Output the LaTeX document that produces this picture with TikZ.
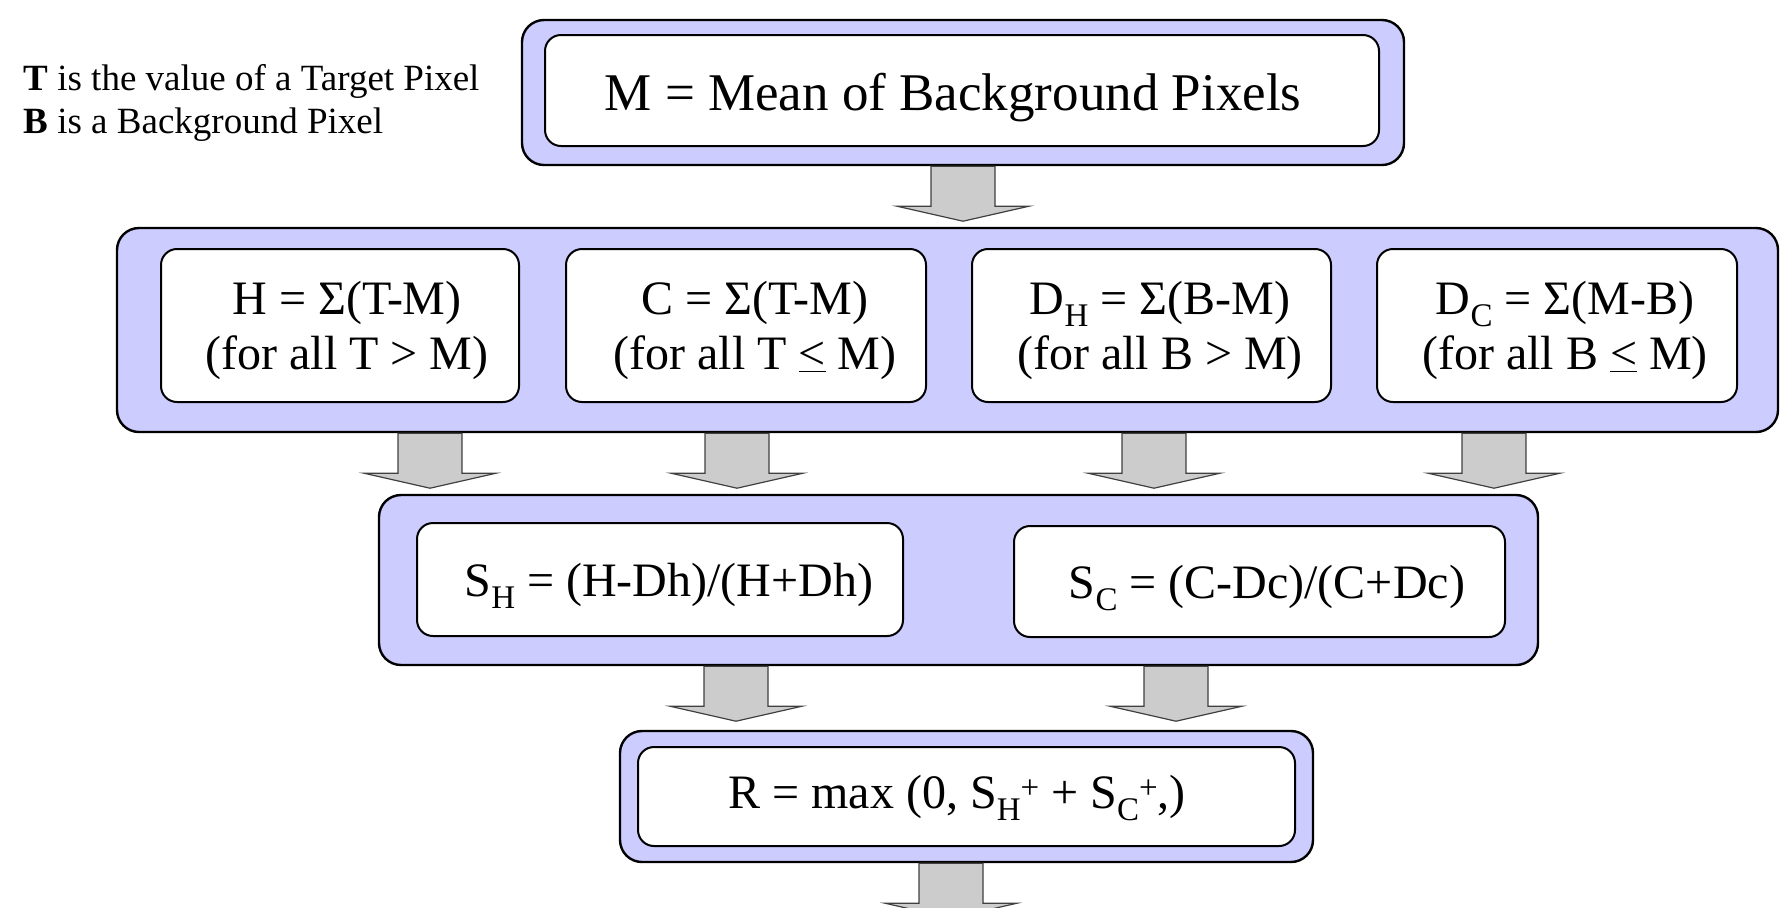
\documentclass[tikz,border=0pt]{standalone}
\usepackage{fontspec}
\setmainfont{Liberation Serif}
\usetikzlibrary{calc}
\definecolor{lav}{HTML}{CCCCFF}
\definecolor{arrgray}{HTML}{CCCCCC}
\newcommand\lowsub[1]{\raisebox{-0.25em}{\fontsize{16.5}{16.5}\selectfont #1}}
\newcommand\highsup[1]{\raisebox{0.2em}{\fontsize{16.5}{16.5}\selectfont #1}}
\tikzset{
 outerbox/.style={draw=black, fill=lav, line width=1.2pt, rounded corners=11pt, inner sep=0pt},
 innerbox/.style={draw=black, fill=white, line width=1pt, rounded corners=8pt, inner sep=0pt},
 txt/.style={inner sep=0pt, align=center},
 bigtxt/.style={txt, font=\fontsize{26.5}{30}\selectfont},
 boxtxt/.style={txt, font=\fontsize{24}{27.5}\selectfont},
 legtxt/.style={font=\fontsize{18.5}{22}\selectfont, anchor=west, inner sep=0pt},
 blockarrow/.style={draw=black!75, fill=arrgray, line width=0.6pt, line join=miter},
}
\newcommand\blockarr[2]{%
  \filldraw[blockarrow] ($(#1 |- #2.south)+(-32,0)$) -- ($(#1 |- #2.south)+(-32,40)$) -- ($(#1 |- #2.south)+(-66,40)$) -- ($(#1 |- #2.south)+(0,55)$) -- ($(#1 |- #2.south)+(66,40)$) -- ($(#1 |- #2.south)+(32,40)$) -- ($(#1 |- #2.south)+(32,0)$) -- cycle;}
\begin{document}
\begin{tikzpicture}[x=0.5pt,y=-0.5pt]
\useasboundingbox (0,0) rectangle (1780,907);
\clip (0,0) rectangle (1780,907);
% legend
\node[legtxt] (leg1) at (23,81) {\textbf{T} is the value of a Target Pixel};
\node[legtxt] (leg2) at (23,125) {\textbf{B} is a Background Pixel};
% column coordinates
\coordinate (cA) at (963,0);
\coordinate (c1) at (430,0);
\coordinate (c2) at (737,0);
\coordinate (c3) at (1154,0);
\coordinate (c4) at (1494,0);
\coordinate (d1) at (736,0);
\coordinate (d2) at (1176,0);
\coordinate (e1) at (951,0);
% top
\node[outerbox, minimum width=441pt, minimum height=72.5pt] (o1) at (963,92.5) {};
\node[innerbox, minimum width=417pt, minimum height=55.5pt] (i1) at (962,90.5) {};
\node[bigtxt] (ti1) at (953,98) {M = Mean of Background Pixels};
% row 2
\node[outerbox, minimum width=830.5pt, minimum height=102pt] (o2) at (947.5,330) {};
\node[innerbox, minimum width=179pt, minimum height=76.5pt] (b1) at (340,325.5) {};
\node[innerbox, minimum width=180pt, minimum height=76.5pt] (b2) at (746,325.5) {};
\node[innerbox, minimum width=179.5pt, minimum height=76.5pt] (b3) at (1151.5,325.5) {};
\node[innerbox, minimum width=180pt, minimum height=76.5pt] (b4) at (1557,325.5) {};
\node[boxtxt] (tb1) at (347,330) {H = Σ(T-M)\\(for all T > M)};
\node[boxtxt] (tb2) at (755,330) {C = Σ(T-M)\\(for all T $\underline{\hbox{<}}$ M)};
\node[boxtxt] (tb3) at (1160,330) {D\lowsub{H} = Σ(B-M)\\(for all B > M)};
\node[boxtxt] (tb4) at (1565,330) {D\lowsub{C} = Σ(M-B)\\(for all B $\underline{\hbox{<}}$ M)};
% row 3
\node[outerbox, minimum width=579.5pt, minimum height=85pt] (o3) at (958.5,580) {};
\node[innerbox, minimum width=243pt, minimum height=56.5pt] (s1) at (660,579.5) {};
\node[innerbox, minimum width=245.5pt, minimum height=55.5pt] (s2) at (1259.5,581.5) {};
\node[boxtxt] (ts1) at (669,586) {S\lowsub{H} = (H-Dh)/(H+Dh)};
\node[boxtxt] (ts2) at (1267,588) {S\lowsub{C} = (C-Dc)/(C+Dc)};
% bottom
\node[outerbox, minimum width=346.5pt, minimum height=65.5pt] (o4) at (966.5,796.5) {};
\node[innerbox, minimum width=328.5pt, minimum height=49.5pt] (r1) at (966.5,796.5) {};
\node[boxtxt] (tr1) at (957,798) {R = max (0, S\lowsub{H}\highsup{+} + S\lowsub{C}\highsup{+},)};
% arrows
\blockarr{cA}{o1}
\blockarr{c1}{o2}
\blockarr{c2}{o2}
\blockarr{c3}{o2}
\blockarr{c4}{o2}
\blockarr{d1}{o3}
\blockarr{d2}{o3}
\blockarr{e1}{o4}
\end{tikzpicture}
\end{document}
